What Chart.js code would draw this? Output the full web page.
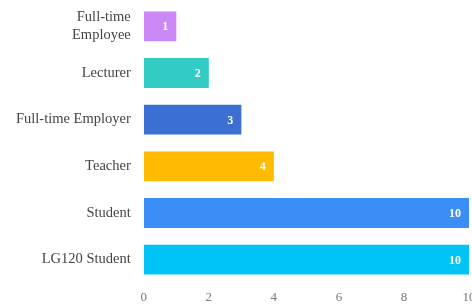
<!DOCTYPE html>
<html>
<head>
<meta charset="utf-8">
<script src="https://cdn.jsdelivr.net/npm/chart.js@4/dist/chart.umd.min.js"></script>
<style>
  html, body { margin: 0; padding: 0; background: #fff; overflow: hidden; }
  #wrap { width: 472px; height: 307px; }
</style>
</head>
<body>
<div id="wrap"><canvas id="chart"></canvas></div>
<script>
// categories top -> bottom
const categories = [['Full-time', 'Employee'], 'Lecturer', 'Full-time Employer', 'Teacher', 'Student', 'LG120 Student'];
const counts = [1, 2, 3, 4, 10, 10];
const barColors = ['#cc88f5', '#33ccc4', '#3b6fd1', '#ffbb00', '#3a8ef5', '#00c4f5'];
const xTicks = [0, 2, 4, 6, 8, 10];

// draw the value at the inner end of each bar
const valueLabels = {
    id: 'valueLabels',
    afterDatasetsDraw(chart) {
        const ctx = chart.ctx;
        const meta = chart.getDatasetMeta(0);
        ctx.save();
        ctx.fillStyle = '#ffffff';
        ctx.font = 'bold 12px "Liberation Serif", serif';
        ctx.textAlign = 'right';
        ctx.textBaseline = 'middle';
        meta.data.forEach((bar, i) => {
            ctx.fillText(String(counts[i]), bar.x - 8, bar.y + 1);
        });
        ctx.restore();
    }
};

// no extra room for half-labels at the ends of the axes
const noEdgePad = (axis) => {
    axis.paddingTop = 0;
    axis.paddingBottom = 0;
    axis.paddingLeft = 0;
    axis.paddingRight = 0;
};

const ctx = document.getElementById('chart').getContext('2d');

const bar = new Chart(ctx, {
    type: 'bar',
    data: {
        labels: categories,
        datasets: [{
            data: counts,
            backgroundColor: barColors,
            categoryPercentage: 0.64,
            barPercentage: 1
        }]
    },
    options: {
        indexAxis: 'y',
        responsive: true,
        maintainAspectRatio: false,
        animation: false,
        layout: { padding: { top: 3, left: 3, right: 3, bottom: 3 } },
        plugins: {
            legend: { display: false },
            tooltip: { enabled: false }
        },
        scales: {
            x: {
                min: 0,
                max: 10,
                grid: { display: false, drawTicks: false },
                border: { display: false },
                afterBuildTicks: (axis) => { axis.ticks = xTicks.map(v => ({ value: v })); },
                afterFit: (axis) => {
                    noEdgePad(axis);
                    axis.height = 21;
                },
                ticks: {
                    padding: 7,
                    color: '#777',
                    font: { family: '"Liberation Serif", serif', size: 13 }
                }
            },
            y: {
                grid: { display: false, drawTicks: false },
                border: { display: false },
                afterFit: noEdgePad,
                ticks: {
                    padding: 13,
                    color: '#444',
                    font: { family: '"Liberation Serif", serif', size: 14.5 }
                }
            }
        }
    },
    plugins: [valueLabels]
});
</script>
</body>
</html>
